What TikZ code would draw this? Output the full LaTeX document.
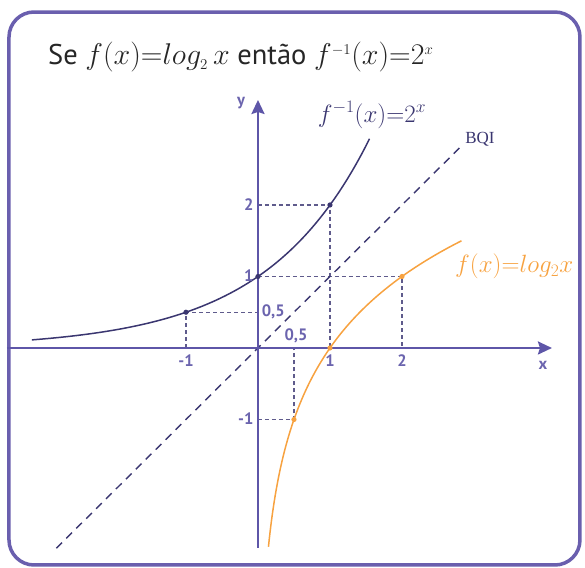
\RequirePackage{fix-cm}
\documentclass[tikz,border=0pt]{standalone}
\usepackage{fontspec}
\setmainfont{PT Sans}
\newfontfamily\labelserif{Liberation Serif}
\usetikzlibrary{arrows.meta}
\definecolor{framepurple}{HTML}{6A5FAE}
\definecolor{axispurple}{HTML}{5E56A8}
\definecolor{curvenavy}{HTML}{3A3670}
\definecolor{logorange}{HTML}{F7A240}
\definecolor{guidegray}{HTML}{5F5B8C}
\definecolor{ticktext}{HTML}{6B64AE}
\newcommand{\titlemath}[1]{{\fontsize{30}{36}\selectfont$#1$}}
\tikzset{axis/.style={draw=axispurple,line width=2.3pt,-{Stealth[length=14pt,width=13pt,inset=2pt]}},guide/.style={draw=guidegray,line width=1.2pt,dash pattern=on 4pt off 3pt},ticklabel/.style={text=ticktext,font=\bfseries\fontsize{16.5}{16.5}\selectfont,inner sep=0pt},bqiline/.style={draw=curvenavy,line width=1.4pt,dash pattern=on 8pt off 6pt}}

\begin{document}
\begin{tikzpicture}[x=72pt,y=71.5pt]
\useasboundingbox (-3.583,-3.077) rectangle (4.542,4.867);
\draw[framepurple,line width=3.5pt,rounded corners=25pt] (-3.458,-3.035) rectangle (4.472,4.699);
\node[anchor=base west,text=black!85,font=\fontsize{28.5}{36}\selectfont,inner sep=0pt] (title) at (-2.917,3.958) {Se \titlemath{f(x){=}log_{\scriptscriptstyle 2}\,x} então \titlemath{f^{\scriptscriptstyle -1}(x){=}2^{\scriptscriptstyle x}}};
\coordinate (O) at (0,0);
\coordinate (p1) at (-1,0.5);
\coordinate (p2) at (0,1);
\coordinate (p3) at (1,2);
\coordinate (q1) at (0.5,-1);
\coordinate (q2) at (1,0);
\coordinate (q3) at (2,1);
\draw[guide] (-1,0) -- (p1) -- (0,0.5);
\draw[guide] (0,2) -- (p3) -- (q2);
\draw[guide] (p2) -- (q3) -- (2,0);
\draw[guide] (0,-1) -- (q1) -- (0.5,0);
\draw[bqiline] (-2.8,-2.8) -- (2.82,2.82);
\draw[axis] (-3.486,0) -- (4.083,0);
\draw[axis] (0,-2.797) -- (0,3.469);
\draw[curvenavy,line width=1.5pt] plot[domain=-3.14:1.55,samples=90,smooth] ({\x},{pow(2,\x)});
\draw[logorange,line width=1.5pt] plot[domain=-2.78:1.5,samples=90,smooth] ({pow(2,\x)},{\x});
\foreach \p in {p1,p2,p3} \fill[curvenavy] (\p) circle (2.6pt);
\foreach \q in {q1,q2,q3} \fill[logorange] (\q) circle (2.6pt);
\node[ticklabel] (xm1) at (-1,-0.175) {-1};
\node[ticklabel] (x1) at (1,-0.175) {1};
\node[ticklabel] (x2) at (2,-0.175) {2};
\node[ticklabel] (xhalf) at (0.528,0.175) {0,5};
\node[ticklabel,anchor=west] (yhalf) at (0.05,0.503) {0,5};
\node[ticklabel,anchor=east] (y1) at (-0.06,1.01) {1};
\node[ticklabel,anchor=east] (y2) at (-0.06,2.01) {2};
\node[ticklabel,anchor=east] (ym1) at (-0.06,-0.99) {-1};
\node[ticklabel] (xlab) at (3.958,-0.238) {x};
\node[ticklabel] (ylab) at (-0.236,3.427) {y};
\node[text=curvenavy,font=\fontsize{25}{25}\selectfont] (invlab) at (1.583,3.259) {$f^{-1}(x){=}2^{x}$};
\node[text=curvenavy,font=\labelserif\fontsize{17}{17}\selectfont] (bqi) at (3.083,2.923) {BQI};
\node[text=logorange,anchor=base west,font=\fontsize{25}{25}\selectfont,inner sep=0pt] (loglab) at (2.736,1.049) {$f(x){=}log_{2}x$};
\end{tikzpicture}
\end{document}
